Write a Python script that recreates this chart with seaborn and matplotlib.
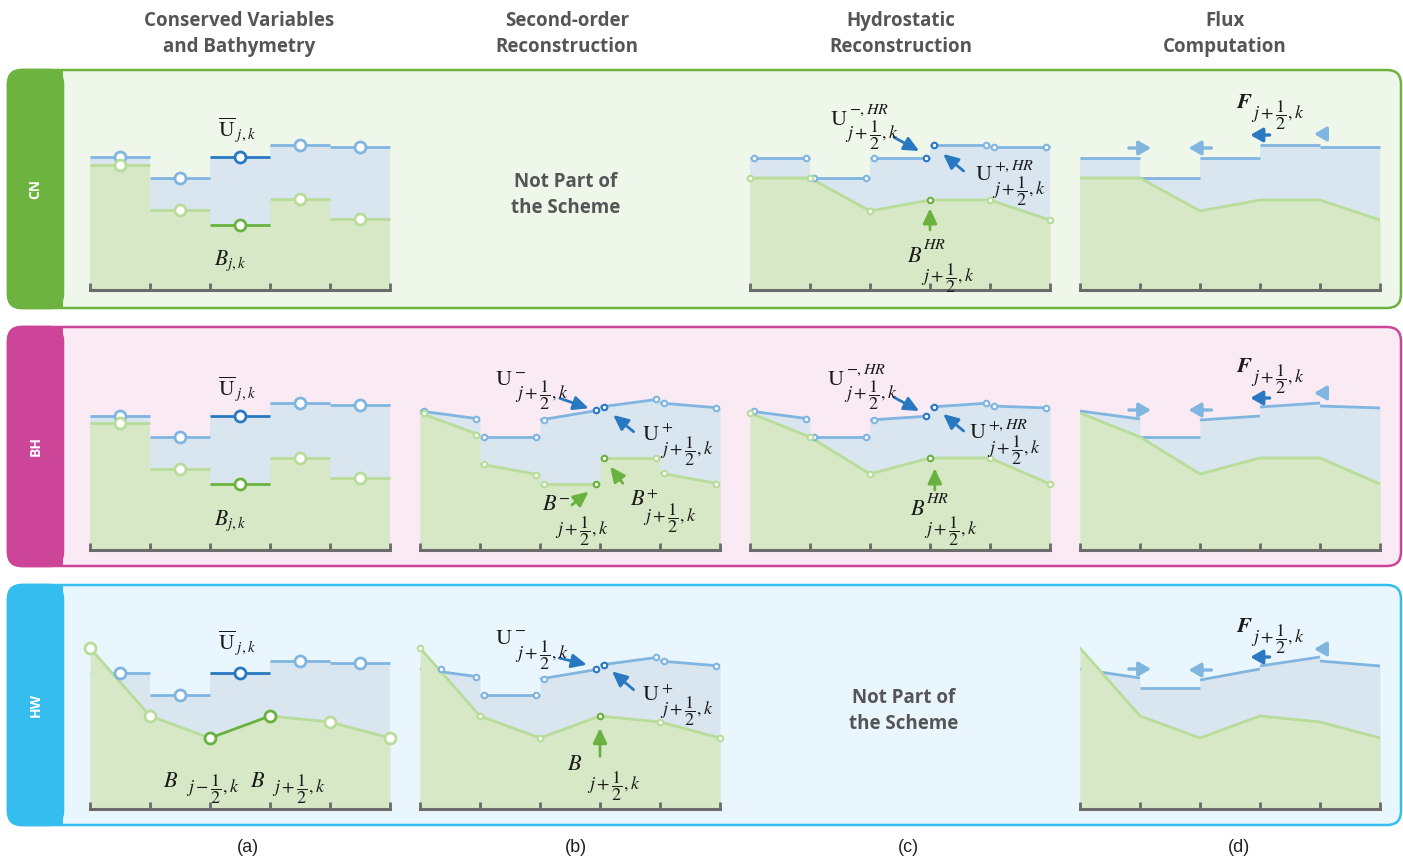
import numpy as np
import matplotlib
matplotlib.use('Agg')
import matplotlib.pyplot as plt
from matplotlib.patches import FancyBboxPatch, Rectangle
import seaborn as sns

sns.set_theme(style='white')
plt.rcParams['font.family'] = ['Open Sans', 'DejaVu Sans']
plt.rcParams['mathtext.fontset'] = 'stix'

# ----- Data (heights above panel floor, x in cell units j = 0..4) -----
rows = ['CN', 'BH', 'HW']
headers = ['Conserved Variables\nand Bathymetry', 'Second-order\nReconstruction',
           'Hydrostatic\nReconstruction', 'Flux\nComputation']
tags = ['(a)', '(b)', '(c)', '(d)']
edges = np.arange(6)

# (a) cell averages
u_avg_cn = [133, 112, 133, 145, 143]
b_avg_cn = [125, 80, 65, 91, 71]
u_avg_bh = [134, 113, 134, 147, 145]
b_avg_bh = [127, 81, 66, 92, 72]
u_avg_hw = [136, 114, 136, 148, 146]
b_edge_hw = [161, 93, 71, 93, 87, 71]

# (b) second-order reconstruction, [left, right] per cell
u_rec_bh = [[139, 131], [113, 113], [130, 140], [143, 151], [147, 142]]
b_rec_bh = [[137, 115], [86, 75], [66, 66], [92, 92], [77, 66]]
u_rec_hw = [[140, 132], [114, 114], [130, 140], [144, 152], [148, 143]]

# (c) hydrostatic reconstruction
u_hr_cn = [[132, 132], [112, 112], [132, 132], [145, 145], [143, 143]]
b_hr_cn = [112, 112, 79, 90, 90, 70]
u_hr_bh = [[139, 131], [113, 113], [130, 134], [143, 147], [144, 142]]
b_hr_bh = [137, 113, 76, 92, 92, 66]

# (d) water level used for HW flux step
u_flux_hw = [[140, 131], [121, 121], [129, 140], [143, 152], [148, 143]]

# flux arrows at the interfaces
flux_pos = [1, 2, 3, 4]
flux_dir = [1, -1, -1, -1]
flux_len = [0.37, 0.38, 0.32, 0.2]
flux_h_cn = [142, 142, 155, 156]
flux_h_bh = [140, 140, 152, 157]
flux_h_hw = [140, 139, 152, 160]

# ----- Style -----
W, H = 1403, 861
WATER = '#d9e6f0'
BED = '#d7e8c6'
U_LIGHT = '#80b5e0'
U_DARK = '#2878c2'
B_LIGHT = '#b8dc9a'
B_DARK = '#6ab23f'
AXIS = '#6b6b6b'
TXT = '#1a1a1a'
ROW_EDGE = {'CN': '#6db33f', 'BH': '#cd4598', 'HW': '#35bdf0'}
ROW_FILL = {'CN': '#eff6ea', 'BH': '#f9eaf4', 'HW': '#eaf6fd'}
ROW_BOX = {'CN': (70, 308), 'BH': (327, 566), 'HW': (585, 825)}
ROW_BASE = {'CN': 290, 'BH': 550, 'HW': 809}
COL_LEFT = [90, 420, 750, 1080]
COL_MID = [239, 567, 901, 1225]
TAG_X = [248, 576, 908, 1239]
PW, PH = 300, 215
INSET = 0.06
BIG, SMALL = 63, 16

fig = plt.figure(figsize=(W / 100, H / 100), dpi=100)
bg = fig.add_axes([0, 0, 1, 1])
bg.set_xlim(0, W)
bg.set_ylim(H, 0)
bg.axis('off')
bg.set_zorder(-1)

# row frames with coloured label strip
for r in rows:
    top, bot = ROW_BOX[r]
    bg.add_patch(FancyBboxPatch((8, top), W - 10, bot - top,
                                boxstyle='round,pad=0,rounding_size=14',
                                fc=ROW_FILL[r], ec=ROW_EDGE[r], lw=1.8))
    bg.add_patch(FancyBboxPatch((8, top), 55, bot - top,
                                boxstyle='round,pad=0,rounding_size=14',
                                fc=ROW_EDGE[r], ec=ROW_EDGE[r], lw=1.8))
    bg.add_patch(Rectangle((40, top), 23, bot - top, fc=ROW_EDGE[r], ec='none'))
    bg.text(35.5, (top + bot) / 2, r, rotation=90, color='white', weight='bold',
            fontsize=10, ha='center', va='center')

for cx, h in zip(COL_MID, headers):
    bg.text(cx, 34, h, ha='center', va='center', fontsize=13.5, weight='bold',
            color='#555555', linespacing=1.4)
for cx, t in zip(TAG_X, tags):
    bg.text(cx, 848, t, ha='center', va='center', fontsize=13, color='#222222',
            family='Liberation Sans')
for cx, cy in [(566, 195), (904, 711)]:
    bg.text(cx, cy, 'Not Part of\nthe Scheme', ha='center', va='center', fontsize=13.5,
            weight='bold', color='#555555', linespacing=1.45)

# overlay for the math symbols (pixel coordinates)
ov = fig.add_axes([0, 0, 1, 1])
ov.set_xlim(0, W)
ov.set_ylim(H, 0)
ov.axis('off')
ov.set_zorder(20)


# ----- helpers -----
def panel(col, row):
    ax = fig.add_axes([COL_LEFT[col] / W, (H - ROW_BASE[row]) / H, PW / W, PH / H])
    ax.set_xlim(0, 5)
    ax.set_ylim(0, PH)
    ax.set_facecolor('none')
    for s in ['top', 'right', 'left']:
        ax.spines[s].set_visible(False)
    ax.spines['bottom'].set_color(AXIS)
    ax.spines['bottom'].set_linewidth(2.2)
    ax.spines['bottom'].set_zorder(9)
    ax.set_xticks(edges)
    ax.set_xticklabels([])
    ax.set_yticks([])
    ax.tick_params(axis='x', direction='in', length=5, width=2, color=AXIS, bottom=True)
    ax.xaxis.set_zorder(9)
    return ax


def as_pairs(vals):
    return np.column_stack([vals, vals])


def edge_pairs(vals):
    vals = np.asarray(vals, float)
    return np.column_stack([vals[:-1], vals[1:]])


def ramps(pairs):
    return np.repeat(edges, 2)[1:-1], np.asarray(pairs, float).ravel()


def ground(ax, u_pairs, b_pairs):
    ux, uy = ramps(u_pairs)
    bx, by = ramps(b_pairs)
    ax.fill_between(ux, 0, uy, color=WATER, lw=0, zorder=1)
    ax.fill_between(bx, 0, by, color=BED, lw=0, zorder=3)


def segments(ax, pairs, color, z, dark=(), dark_color=None):
    for i, (l, r) in enumerate(pairs):
        c = dark_color if i in dark else color
        ax.plot([i, i + 1], [l, r], color=c, lw=2, zorder=z,
                solid_capstyle='butt', clip_on=False)


def dots(ax, x, y, color, size, z, lw=1.6):
    sns.scatterplot(x=np.asarray(x, float), y=np.asarray(y, float), ax=ax, s=size,
                    color='white', edgecolor=color, linewidth=lw, zorder=z,
                    clip_on=False, legend=False)


def label(ax, x, y, s, size=15.5):
    ax.text(x, y, s, ha='center', va='center', fontsize=size, color=TXT, zorder=8)


def symbol(px, py, main, sup=None, sub=None, sup_dy=13, sub_dy=-10, sub_dx=0):
    # px, py: right edge and baseline of the main glyph, in pixels
    ov.text(px, py, main, ha='right', va='baseline', fontsize=16, color=TXT)
    if sup:
        ov.annotate(sup, (px, py), xytext=(1, sup_dy), textcoords='offset pixels',
                    ha='left', va='center', fontsize=11.5, color=TXT)
    if sub:
        ov.annotate(sub, (px, py), xytext=(sub_dx, sub_dy), textcoords='offset pixels',
                    ha='left', va='center', fontsize=13, color=TXT)


def pointer(ax, tail, head, color):
    ax.annotate('', xy=head, xytext=tail, zorder=7,
                arrowprops=dict(arrowstyle='-|>,head_length=0.6,head_width=0.28',
                                color=color, lw=2, mutation_scale=15,
                                shrinkA=0, shrinkB=0))


def flux_arrows(ax, heights):
    for x, d, L, h in zip(flux_pos, flux_dir, flux_len, heights):
        c = U_DARK if x == 3 else U_LIGHT
        ax.annotate('', xy=(x + d * L / 2, h), xytext=(x - d * L / 2, h), zorder=7,
                    arrowprops=dict(arrowstyle='-|>,head_length=0.45,head_width=0.26',
                                    color=c, lw=2.4, mutation_scale=16,
                                    shrinkA=0, shrinkB=0))


def left_marker_x(i, u_pair, b_pair):
    uL, uR = u_pair
    bL, bR = b_pair
    t = INSET
    if bL > uL:
        t = max(t, (bL - uL) / ((bL - uL) - (bR - uR)))
    return i + t


centers = edges[:-1] + 0.5
SUB_P = r'$j+\dfrac{1}{2},k$'
SUB_M = r'$j-\dfrac{1}{2},k$'
U_ = r'$\mathrm{U}$'
B_ = r'$B$'

# ----- column (a) -----
for row, u, b in [('CN', u_avg_cn, b_avg_cn), ('BH', u_avg_bh, b_avg_bh)]:
    ax = panel(0, row)
    up, bp = as_pairs(u), as_pairs(b)
    ground(ax, up, bp)
    segments(ax, up, U_LIGHT, 2, dark=(2,), dark_color=U_DARK)
    segments(ax, bp, B_LIGHT, 4, dark=(2,), dark_color=B_DARK)
    for i in range(5):
        dots(ax, [centers[i]], [u[i]], U_DARK if i == 2 else U_LIGHT, BIG, 5, 2)
        dots(ax, [centers[i]], [b[i]], B_DARK if i == 2 else B_LIGHT, BIG, 6, 2)
    label(ax, 2.45, u[2] + 27, r'$\overline{\mathrm{U}}_{\;j,k}$')
    label(ax, 2.33, 29, r'$B_{j,k}$')

ax = panel(0, 'HW')
up = as_pairs(u_avg_hw)
bp = edge_pairs(b_edge_hw)
ground(ax, up, bp)
segments(ax, up, U_LIGHT, 2, dark=(2,), dark_color=U_DARK)
segments(ax, bp, B_LIGHT, 4, dark=(2,), dark_color=B_DARK)
for i in range(5):
    dots(ax, [centers[i]], [u_avg_hw[i]], U_DARK if i == 2 else U_LIGHT, BIG, 5, 2)
for i in range(6):
    dots(ax, [edges[i]], [b_edge_hw[i]], B_DARK if i in (2, 3) else B_LIGHT, BIG, 6, 2)
label(ax, 2.45, 166, r'$\overline{\mathrm{U}}_{\;j,k}$')
symbol(178, 787, B_, sub=SUB_M, sub_dy=-2, sub_dx=8)
symbol(265, 787, B_, sub=SUB_P, sub_dy=-2, sub_dx=7)


# ----- columns (b) and (c) -----
def reconstruction(ax, u_pairs, b_pairs, b_edges=None):
    ground(ax, u_pairs, b_pairs)
    segments(ax, u_pairs, U_LIGHT, 2)
    if b_edges is not None:
        sns.lineplot(x=edges, y=b_edges, ax=ax, color=B_LIGHT, lw=2, sort=False, zorder=4)
    else:
        segments(ax, b_pairs, B_LIGHT, 4)
    for i, (u2, b2) in enumerate(zip(u_pairs, b_pairs)):
        xl = left_marker_x(i, u2, b2)
        xr = i + 1 - INSET
        dots(ax, [xl], [u2[0]], U_DARK if i == 3 else U_LIGHT, SMALL, 5, 1.5)
        dots(ax, [xr], [u2[1]], U_DARK if i == 2 else U_LIGHT, SMALL, 5, 1.5)
    if b_edges is not None:
        for i in range(6):
            dots(ax, [edges[i]], [b_edges[i]], B_DARK if i == 3 else B_LIGHT, SMALL, 6, 1.5)
    else:
        for i, b2 in enumerate(b_pairs):
            dots(ax, [i + INSET], [b2[0]], B_DARK if i == 3 else B_LIGHT, SMALL, 6, 1.5)
            dots(ax, [i + 1 - INSET], [b2[1]], B_DARK if i == 2 else B_LIGHT, SMALL, 6, 1.5)


# BH (b)
ax = panel(1, 'BH')
reconstruction(ax, np.array(u_rec_bh, float), np.array(b_rec_bh, float))
symbol(513, 385, U_, r'$-$', SUB_P, 13, -10, 2)
symbol(660, 440, U_, r'$+$', SUB_P, 13, -11, 0)
symbol(557, 510, B_, r'$-$', SUB_P, 12, -21, -2)
symbol(645, 505, B_, r'$+$', SUB_P, 12, -13, -2)
pointer(ax, (2.33, 151.7), (2.81, 141.7), U_DARK)
pointer(ax, (3.56, 118.3), (3.22, 135), U_DARK)
pointer(ax, (2.53, 45), (2.81, 58.3), B_DARK)
pointer(ax, (3.38, 66.7), (3.17, 83.3), B_DARK)

# HW (b)
ax = panel(1, 'HW')
reconstruction(ax, np.array(u_rec_hw, float), edge_pairs(b_edge_hw), b_edges=b_edge_hw)
symbol(513, 644, U_, r'$-$', SUB_P, 14, -11, 2)
symbol(660, 700, U_, r'$+$', SUB_P, 12, -11, 0)
symbol(582, 770, B_, sub=SUB_P, sub_dy=-16, sub_dx=5)
pointer(ax, (2.32, 151), (2.78, 144.3), U_DARK)
pointer(ax, (3.56, 119.3), (3.2, 137.6), U_DARK)
pointer(ax, (3.0, 52.6), (3.0, 81), B_DARK)

# CN (c) and BH (c)
hr_labels = {'CN': [(848, 125, 15, -10, -3), (993, 180, 14, -11, -1), (922, 262, 17, -16, -1)],
             'BH': [(845, 385, 15, -10, -1), (987, 438, 13, -12, 0), (925, 515, 16, -16, -1)]}
hr_arrow_x = {'CN': 3.0, 'BH': 3.08}
for row, u_hr, b_hr in [('CN', u_hr_cn, b_hr_cn), ('BH', u_hr_bh, b_hr_bh)]:
    ax = panel(2, row)
    reconstruction(ax, np.array(u_hr, float), edge_pairs(b_hr), b_edges=b_hr)
    (a1, a2, a3) = hr_labels[row]
    symbol(a1[0], a1[1], U_, r'$-,HR$', SUB_P, *a1[2:])
    symbol(a2[0], a2[1], U_, r'$+,HR$', SUB_P, *a2[2:])
    symbol(a3[0], a3[1], B_, r'$HR$', SUB_P, *a3[2:])
    pointer(ax, (2.4, 152.7), (2.82, 139), U_DARK)
    pointer(ax, (3.56, 119), (3.22, 136), U_DARK)
    pointer(ax, (hr_arrow_x[row], 60), (hr_arrow_x[row], 81.7), B_DARK)

# ----- column (d) -----
for row, u_pairs, b_e, fh in [('CN', u_hr_cn, b_hr_cn, flux_h_cn),
                              ('BH', u_hr_bh, b_hr_bh, flux_h_bh),
                              ('HW', u_flux_hw, b_edge_hw, flux_h_hw)]:
    ax = panel(3, row)
    up = np.array(u_pairs, float)
    ground(ax, up, edge_pairs(b_e))
    segments(ax, up, U_LIGHT, 2)
    sns.lineplot(x=edges, y=b_e, ax=ax, color=B_LIGHT, lw=2, sort=False, zorder=4)
    flux_arrows(ax, fh)
    fy = {'CN': 108, 'BH': 372, 'HW': 632}[row]
    symbol(1253, fy, r'$\boldsymbol{F}$', sub=SUB_P, sub_dy=-7, sub_dx=-2)

fig.savefig('out.png', dpi=100)
